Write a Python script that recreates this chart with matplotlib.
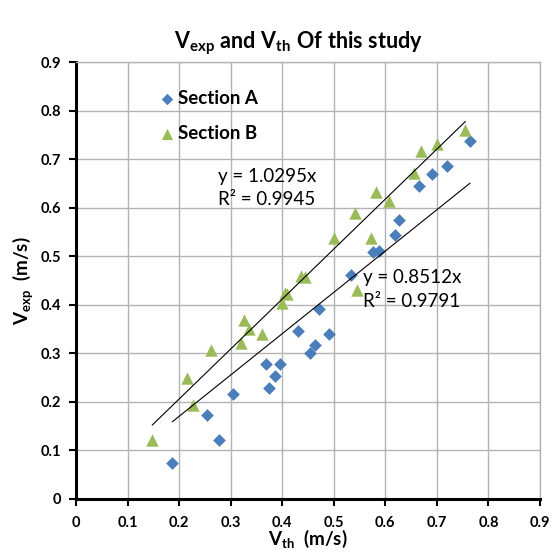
import matplotlib
matplotlib.use("Agg")
import matplotlib.pyplot as plt
import numpy as np

plt.rcParams["font.family"] = ["Lato", "DejaVu Sans"]
plt.rcParams["mathtext.fontset"] = "custom"
plt.rcParams["mathtext.rm"] = "Lato"
plt.rcParams["mathtext.bf"] = "Lato:bold"
plt.rcParams["mathtext.it"] = "Lato:italic"

# Section A (blue diamonds)
vth_a = [0.187, 0.255, 0.277, 0.305, 0.368, 0.375, 0.386, 0.395, 0.431, 0.454, 0.464,
         0.471, 0.491, 0.534, 0.577, 0.588, 0.618, 0.626, 0.665, 0.690, 0.719, 0.764]
vexp_a = [0.074, 0.172, 0.122, 0.217, 0.279, 0.228, 0.253, 0.279, 0.345, 0.300, 0.318,
          0.391, 0.340, 0.462, 0.508, 0.510, 0.543, 0.574, 0.645, 0.669, 0.686, 0.737]

# Section B (green triangles)
vth_b = [0.148, 0.216, 0.226, 0.262, 0.321, 0.325, 0.335, 0.361, 0.400, 0.405, 0.410,
         0.436, 0.444, 0.501, 0.542, 0.545, 0.573, 0.582, 0.607, 0.656, 0.669, 0.700, 0.755]
vexp_b = [0.121, 0.249, 0.193, 0.307, 0.322, 0.368, 0.350, 0.340, 0.404, 0.425, 0.422,
          0.459, 0.457, 0.538, 0.590, 0.430, 0.538, 0.632, 0.614, 0.672, 0.717, 0.732, 0.760]

slope_a = 0.8512
slope_b = 1.0295
ticks = [0, 0.1, 0.2, 0.3, 0.4, 0.5, 0.6, 0.7, 0.8, 0.9]
tick_labels = ["0", "0.1", "0.2", "0.3", "0.4", "0.5", "0.6", "0.7", "0.8", "0.9"]

fig = plt.figure(figsize=(5.53, 5.54), dpi=100)
ax = fig.add_axes([0.1374, 0.0993, 0.8391, 0.7887])

ax.grid(True, color="#b3b3b3", linewidth=1.0, zorder=0)
ax.set_axisbelow(True)

ax.scatter(vth_a, vexp_a, marker="D", s=42, color="#4a7ebb", linewidths=0,
           label="Section A", zorder=3)
ax.scatter(vth_b, vexp_b, marker="^", s=80, color="#9bbb59", linewidths=0,
           label="Section B", zorder=3)

# linear trendlines through origin
xa = np.array([min(vth_a), max(vth_a)])
xb = np.array([min(vth_b), max(vth_b)])
ax.plot(xa, slope_a * xa, color="black", linewidth=0.8, zorder=4)
ax.plot(xb, slope_b * xb, color="black", linewidth=0.8, zorder=4)

ax.text(0.275, 0.664, "y = 1.0295x", fontsize=13.5, va="center", zorder=5)
ax.text(0.275, 0.617, "R² = 0.9945", fontsize=13.5, va="center", zorder=5)
ax.text(0.556, 0.457, "y = 0.8512x", fontsize=13.5, va="center", zorder=5)
ax.text(0.556, 0.406, "R² = 0.9791", fontsize=13.5, va="center", zorder=5)

ax.set_xlim(0, 0.9)
ax.set_ylim(0, 0.9)
ax.set_xticks(ticks)
ax.set_yticks(ticks)
ax.set_xticklabels(tick_labels, fontsize=10.5, fontweight="bold")
ax.set_yticklabels(tick_labels, fontsize=10.5, fontweight="bold")
ax.tick_params(direction="out", length=5, width=1.5, pad=6)
ax.tick_params(axis="x", pad=7)

for side in ["left", "bottom"]:
    ax.spines[side].set_linewidth(2.2)
    ax.spines[side].set_color("black")
for side in ["top", "right"]:
    ax.spines[side].set_linewidth(1.0)
    ax.spines[side].set_color("#b3b3b3")

ax.set_xlabel(r"$\mathbf{V_{th}}$  (m/s)", fontsize=13.5, fontweight="bold", labelpad=-1)
ax.set_ylabel(r"$\mathbf{V_{exp}}$  (m/s)", fontsize=13.5, fontweight="bold", labelpad=4)

fig.suptitle(r"$\mathbf{V_{exp}\ and\ V_{th}\ Of\ this\ study}$", fontsize=15.5,
             x=0.54, y=0.948)

leg = ax.legend(loc="upper left", bbox_to_anchor=(0.14, 0.975), frameon=False,
                prop={"weight": "bold", "size": 13.5}, handletextpad=0.05,
                labelspacing=0.95, markerscale=0.9, handlelength=1.0)

fig.savefig("out.png", dpi=100)
